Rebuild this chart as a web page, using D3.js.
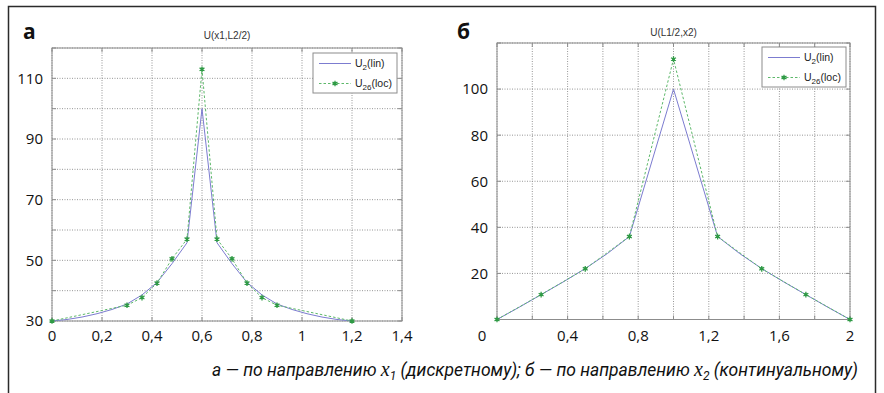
<!DOCTYPE html>
<html>
<head>
<meta charset="utf-8">
<script src="https://cdn.jsdelivr.net/npm/d3@7"></script>
<style>
  html, body { margin: 0; padding: 0; background: #fff; }
  svg { display: block; }
</style>
</head>
<body>
<svg id="chart" width="884" height="393"></svg>
<script>
// Panel a: U along x1 (discrete direction)
const xLocA = [0, 0.3, 0.36, 0.42, 0.48, 0.54, 0.6, 0.66, 0.72, 0.78, 0.84, 0.9, 1.2];
const uLocA = [30, 35.2, 37.7, 42.5, 50.5, 57, 113, 57, 50.5, 42.5, 37.7, 35.2, 30];
const xLinA = [0, 0.06, 0.12, 0.18, 0.24, 0.3, 0.36, 0.42, 0.48, 0.54, 0.6,
               0.66, 0.72, 0.78, 0.84, 0.9, 0.96, 1.02, 1.08, 1.14, 1.2];
const uLinA = [30, 30.5, 31.3, 32.4, 33.8, 35.6, 38.6, 42.7, 48.9, 55.8, 100,
               55.8, 48.9, 42.7, 38.6, 35.6, 33.8, 32.4, 31.3, 30.5, 30];
const xTicksA = [0, 0.2, 0.4, 0.6, 0.8, 1, 1.2, 1.4];
const xTickLabelsA = ["0", "0,2", "0,4", "0,6", "0,8", "1", "1,2", "1,4"];
const yGridA = [30, 40, 50, 60, 70, 80, 90, 100, 110, 120];
const yTicksA = [30, 50, 70, 90, 110];

// Panel b: U along x2 (continual direction)
const xLocB = [0, 0.25, 0.5, 0.75, 1, 1.25, 1.5, 1.75, 2];
const uLocB = [0, 10.8, 22, 36, 113, 36, 22, 10.8, 0];
const xLinB = [0, 0.125, 0.25, 0.375, 0.5, 0.625, 0.75, 1, 1.25, 1.375, 1.5, 1.625, 1.75, 1.875, 2];
const uLinB = [0, 5.3, 10.8, 16.3, 22.1, 28.6, 36, 100, 36, 28.6, 22.1, 16.3, 10.8, 5.3, 0];
const xGridB = [0, 0.2, 0.4, 0.6, 0.8, 1, 1.2, 1.4, 1.6, 1.8, 2];
const xTicksB = [0, 0.4, 0.8, 1.2, 1.6, 2];
const xTickLabelsB = ["0", "0,4", "0,8", "1,2", "1,6", "2"];
const yGridB = [0, 20, 40, 60, 80, 100, 120];
const yTicksB = [20, 40, 60, 80, 100];

const captionParts = [
  { t: "а — по направлению ", cls: "cap" },
  { t: "x", cls: "math" },
  { t: "1", cls: "sub" },
  { t: " (дискретному); б — по направлению ", cls: "cap" },
  { t: "x", cls: "math" },
  { t: "2", cls: "sub" },
  { t: " (континуальному)", cls: "cap" }
];

const svg = d3.select("#chart");

const LIN_COLOR = "#7c7cd0";
const LOC_COLOR = "#5db86a";
const MARK_COLOR = "#2f9a45";
const GRID_COLOR = "#8a8a8a";
const BOX_COLOR = "#8c8c8c";
const LABEL_FONT = "'Open Sans', 'Noto Sans', sans-serif";
const CAPTION_FONT = "Roboto, 'Open Sans', sans-serif";
const SMALL_FONT = "'Liberation Sans', Arial, sans-serif";

// Outer frame of the figure
svg.append("path")
  .attr("d", "M8.5,400 V6.5 H875.5 V400")
  .attr("fill", "none")
  .attr("stroke", "#2b2b2b")
  .attr("stroke-width", 1.5);

function drawPanel(cfg) {
  const x = d3.scaleLinear().domain(cfg.xDomain).range(cfg.xRange);
  const y = d3.scaleLinear().domain(cfg.yDomain).range(cfg.yRange);
  const [x0, x1] = cfg.xRange;
  const [yb, yt] = cfg.yRange;
  const g = svg.append("g");

  // dotted grid
  g.selectAll("line.vg").data(cfg.xGrid).join("line")
    .attr("x1", d => x(d)).attr("x2", d => x(d))
    .attr("y1", yb).attr("y2", yt)
    .attr("stroke", GRID_COLOR).attr("stroke-width", 0.9)
    .attr("stroke-dasharray", "1,1.5");
  g.selectAll("line.hg").data(cfg.yGrid).join("line")
    .attr("x1", x0).attr("x2", x1)
    .attr("y1", d => y(d)).attr("y2", d => y(d))
    .attr("stroke", GRID_COLOR).attr("stroke-width", 0.9)
    .attr("stroke-dasharray", "1,1.5");

  // inward tick marks on all four sides
  const tl = 4;
  cfg.xGrid.forEach(d => {
    g.append("line").attr("x1", x(d)).attr("x2", x(d)).attr("y1", yb).attr("y2", yb - tl)
      .attr("stroke", BOX_COLOR);
    g.append("line").attr("x1", x(d)).attr("x2", x(d)).attr("y1", yt).attr("y2", yt + tl)
      .attr("stroke", BOX_COLOR);
  });
  cfg.yGrid.forEach(d => {
    g.append("line").attr("x1", x0).attr("x2", x0 + tl).attr("y1", y(d)).attr("y2", y(d))
      .attr("stroke", BOX_COLOR);
    g.append("line").attr("x1", x1).attr("x2", x1 - tl).attr("y1", y(d)).attr("y2", y(d))
      .attr("stroke", BOX_COLOR);
  });

  // axes box
  g.append("rect")
    .attr("x", x0).attr("y", yt)
    .attr("width", x1 - x0).attr("height", yb - yt)
    .attr("fill", "none").attr("stroke", BOX_COLOR).attr("stroke-width", 1);

  const line = d3.line().x(d => x(d[0])).y(d => y(d[1]));

  // continuous (lin) solution
  g.append("path")
    .datum(cfg.xLin.map((v, i) => [v, cfg.uLin[i]]))
    .attr("d", line)
    .attr("fill", "none").attr("stroke", LIN_COLOR).attr("stroke-width", 1);

  // local (loc) solution: dashed line with markers
  const locPts = cfg.xLoc.map((v, i) => [v, cfg.uLoc[i]]);
  g.append("path")
    .datum(locPts)
    .attr("d", line)
    .attr("fill", "none").attr("stroke", LOC_COLOR).attr("stroke-width", 1)
    .attr("stroke-dasharray", "2.5,2");
  const star = d3.symbol().type(d3.symbolAsterisk).size(22);
  g.selectAll("path.mk").data(locPts).join("path")
    .attr("transform", d => `translate(${x(d[0])},${y(d[1])})`)
    .attr("d", star)
    .attr("fill", "none").attr("stroke", MARK_COLOR).attr("stroke-width", 1.3);
  g.selectAll("circle.mk").data(locPts).join("circle")
    .attr("cx", d => x(d[0])).attr("cy", d => y(d[1])).attr("r", 1.4)
    .attr("fill", MARK_COLOR);

  // tick labels
  g.selectAll("text.xl").data(cfg.xTicks).join("text")
    .attr("x", (d, i) => x(d) + (cfg.xLabelShift[i] || 0))
    .attr("y", 341)
    .attr("text-anchor", "middle")
    .attr("font-family", LABEL_FONT).attr("font-size", 15).attr("fill", "#111")
    .text((d, i) => cfg.xTickLabels[i]);
  g.selectAll("text.yl").data(cfg.yTicks).join("text")
    .attr("x", x0 - 9)
    .attr("y", d => y(d))
    .attr("dy", "0.36em")
    .attr("text-anchor", "end")
    .attr("font-family", LABEL_FONT).attr("font-size", 15).attr("fill", "#111")
    .text(d => d);

  // title
  g.append("text")
    .attr("x", (x0 + x1) / 2).attr("y", cfg.titleY)
    .attr("text-anchor", "middle")
    .attr("font-family", SMALL_FONT).attr("font-size", 10).attr("fill", "#333")
    .text(cfg.title);

  // panel letter
  g.append("text")
    .attr("x", cfg.letterX).attr("y", 39)
    .attr("font-family", LABEL_FONT).attr("font-weight", "bold")
    .attr("font-size", 21).attr("fill", "#111")
    .text(cfg.letter);

  // legend
  const lg = g.append("g").attr("transform", `translate(${cfg.legend[0]},${cfg.legend[1]})`);
  const lw = cfg.legend[2], lh = cfg.legend[3];
  lg.append("rect").attr("width", lw).attr("height", lh)
    .attr("fill", "#fff").attr("stroke", BOX_COLOR).attr("stroke-width", 1);
  const rows = [
    { base: "U", sub: "2", tail: "(lin)", color: LIN_COLOR, dash: null, mark: false },
    { base: "U", sub: "26", tail: "(loc)", color: LOC_COLOR, dash: "2.5,2", mark: true }
  ];
  rows.forEach((r, i) => {
    const ry = 10.5 + i * 20;
    lg.append("line").attr("x1", 6).attr("x2", 38).attr("y1", ry).attr("y2", ry)
      .attr("stroke", r.color).attr("stroke-width", 1)
      .attr("stroke-dasharray", r.dash);
    if (r.mark) {
      lg.append("path").attr("transform", `translate(22,${ry})`).attr("d", star)
        .attr("fill", "none").attr("stroke", MARK_COLOR).attr("stroke-width", 1.3);
      lg.append("circle").attr("cx", 22).attr("cy", ry).attr("r", 1.4).attr("fill", MARK_COLOR);
    }
    const t = lg.append("text").attr("x", 42).attr("y", ry + 3.5)
      .attr("font-family", SMALL_FONT).attr("font-size", 10.5).attr("fill", "#222");
    t.append("tspan").text(r.base);
    t.append("tspan").attr("dy", 3).attr("font-size", 8).text(r.sub);
    t.append("tspan").attr("dy", -3).text(r.tail);
  });
}

drawPanel({
  xDomain: [0, 1.4], xRange: [52, 402],
  yDomain: [30, 120], yRange: [321, 48],
  xGrid: xTicksA, yGrid: yGridA,
  xTicks: xTicksA, xTickLabels: xTickLabelsA, xLabelShift: [],
  yTicks: yTicksA,
  xLin: xLinA, uLin: uLinA, xLoc: xLocA, uLoc: uLocA,
  title: "U(x1,L2/2)", titleY: 39,
  letter: "а", letterX: 23,
  legend: [313, 53, 84, 40]
});

drawPanel({
  xDomain: [0, 2], xRange: [497, 850],
  yDomain: [0, 120], yRange: [319.5, 43],
  xGrid: xGridB, yGrid: yGridB,
  xTicks: xTicksB, xTickLabels: xTickLabelsB, xLabelShift: [-15],
  yTicks: yTicksB,
  xLin: xLinB, uLin: uLinB, xLoc: xLocB, uLoc: uLocB,
  title: "U(L1/2,x2)", titleY: 36,
  letter: "б", letterX: 457,
  legend: [762, 47, 84, 40]
});

// caption with italic x and subscripts
const cap = svg.append("text")
  .attr("x", 858).attr("y", 376)
  .attr("text-anchor", "end")
  .attr("font-size", 17.5).attr("fill", "#111");
let lowered = false;
captionParts.forEach(p => {
  const ts = cap.append("tspan").text(p.t);
  if (p.cls === "math") {
    ts.attr("font-family", "'Liberation Serif', serif").attr("font-style", "italic")
      .attr("font-size", 20);
  } else {
    ts.attr("font-family", CAPTION_FONT).attr("font-style", "italic");
  }
  if (p.cls === "sub") {
    ts.attr("font-size", 12).attr("dy", 4);
    lowered = true;
  } else if (lowered) {
    ts.attr("dy", -4);
    lowered = false;
  }
});
</script>
</body>
</html>
